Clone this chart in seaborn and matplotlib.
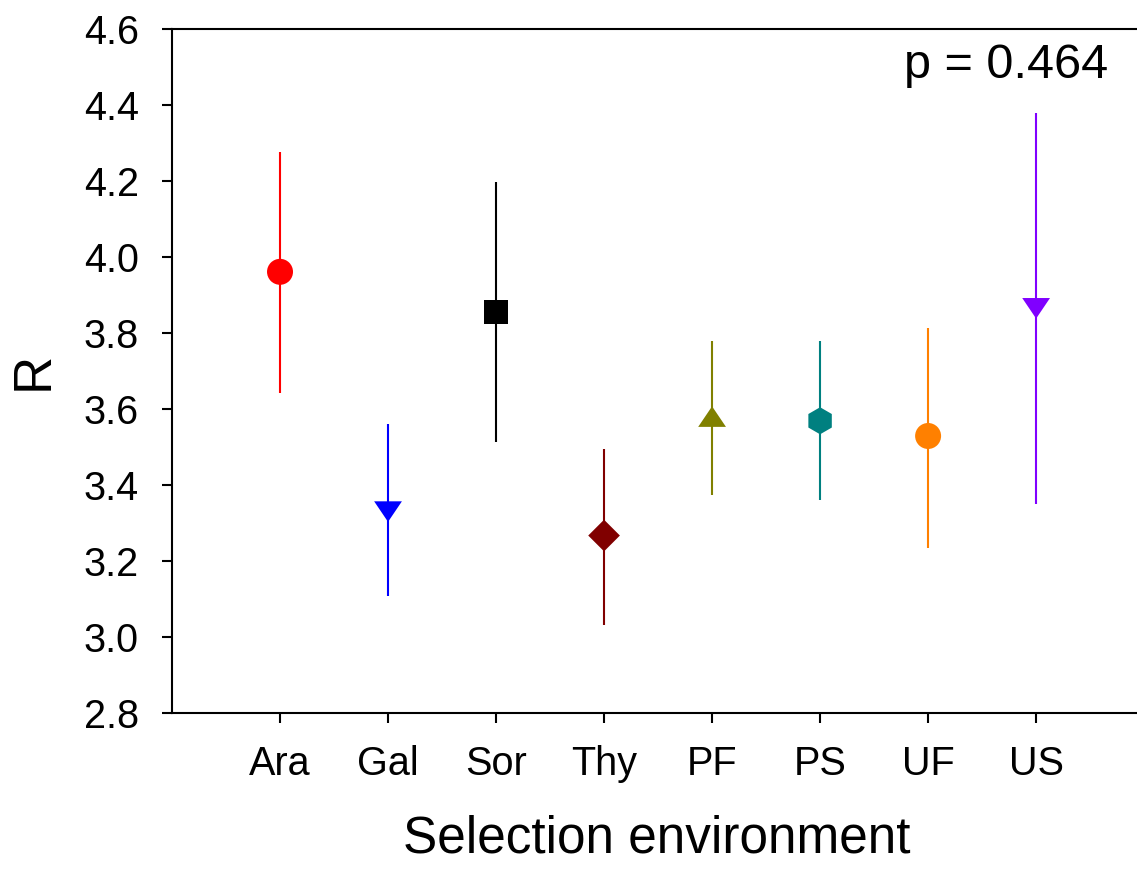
import matplotlib
matplotlib.use("Agg")
import matplotlib.pyplot as plt
import seaborn as sns
import pandas as pd

# ---- data ----
categories = ["Ara", "Gal", "Sor", "Thy", "PF", "PS", "UF", "US"]
means = [3.961, 3.330, 3.856, 3.267, 3.580, 3.569, 3.529, 3.865]
lower = [3.643, 3.109, 3.514, 3.032, 3.375, 3.361, 3.233, 3.349]
upper = [4.276, 3.561, 4.198, 3.494, 3.780, 3.780, 3.812, 4.378]
colors = ["#FF0000", "#0000FF", "#000000", "#800000",
          "#808000", "#008080", "#FF8000", "#8000FF"]
y_ticks = [2.8, 3.0, 3.2, 3.4, 3.6, 3.8, 4.0, 4.2, 4.4, 4.6]
p_label = "p = 0.464"
x_title = "Selection environment"
y_title = "R"

# ---- styles ----
tri_down = [(-1, 0.74), (1, 0.74), (0, -0.74)]
tri_up = [(-1, -0.74), (1, -0.74), (0, 0.74)]
marker_shapes = ["o", tri_down, "s", "D", tri_up, "h", "o", tri_down]
marker_areas = [350, 400, 290, 260, 400, 380, 350, 400]

sns.set_style("ticks")
plt.rcParams["font.family"] = ["Liberation Sans", "DejaVu Sans"]

df = pd.DataFrame({"cat": categories, "mean": means})

fig = plt.figure(figsize=(11.37, 8.69), dpi=100)
ax = fig.add_axes([172 / 1137, 1 - 713 / 869, 1 - 172 / 1137, (713 - 29) / 869])

sns.scatterplot(
    data=df, x="cat", y="mean", hue="cat", style="cat", size="cat",
    palette=dict(zip(categories, colors)),
    markers=dict(zip(categories, marker_shapes)),
    sizes=dict(zip(categories, marker_areas)),
    linewidth=0, edgecolor="none", alpha=1, legend=False, zorder=3, ax=ax,
)
ax.vlines(categories, lower, upper, colors=colors, linewidth=1.5, zorder=2)

ax.set_xlim(-1, 7.934)
ax.set_ylim(2.8, 4.6)
ax.set_yticks(y_ticks)
ax.set_yticklabels([f"{t:.1f}" for t in y_ticks])

for side in ["left", "bottom", "top"]:
    ax.spines[side].set_linewidth(1.5)
    ax.spines[side].set_color("black")
ax.spines["right"].set_visible(False)

ax.tick_params(axis="both", direction="out", length=7, width=1.5,
               color="black", labelsize=28.5, labelcolor="black")
ax.tick_params(axis="y", pad=17)
ax.tick_params(axis="x", pad=16)

ax.set_xlabel(x_title, fontsize=37, color="black")
ax.set_ylabel(y_title, fontsize=38, color="black")
ax.xaxis.set_label_coords(0.5026, -0.148)
ax.yaxis.set_label_coords(-0.118, 0.5)

ax.text((1108 - 172) / 965, (713 - 78) / 684, p_label, transform=ax.transAxes,
        ha="right", va="baseline", fontsize=35, color="black")

fig.savefig("out.png", dpi=100)
